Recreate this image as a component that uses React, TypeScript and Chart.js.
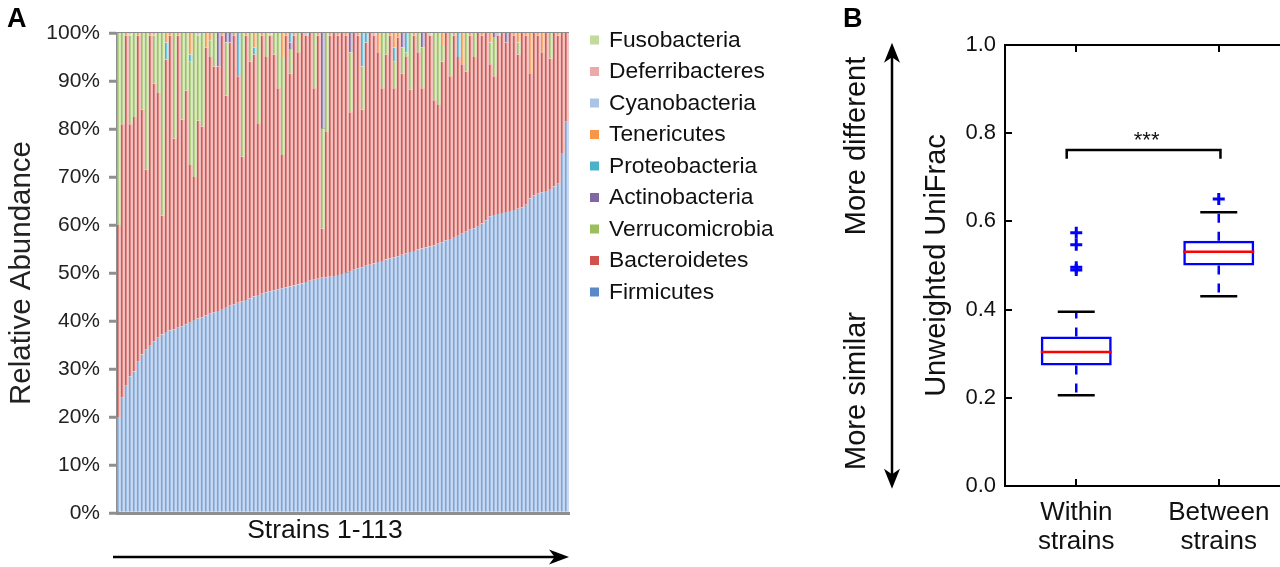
import React, { useEffect, useRef } from 'react';
import { Chart, registerables } from 'chart.js';

Chart.register(...registerables);

const FONT = "'Liberation Sans', Arial, Helvetica, sans-serif";
Chart.defaults.font.family = FONT;

// ---------------- Panel A : relative abundance of phyla, strains 1-113 ----------------
const strains: string[] = Array.from({ length: 113 }, (_, i) => String(i + 1));

const firmicutes = [
  20, 24, 26.5, 28.5, 29.5, 31.5, 33, 34, 35, 35.8,
  36.5, 37.2, 37.7, 38, 38.3, 38.6, 38.9, 39.3, 39.7, 40.2,
  40.5, 40.8, 41.2, 41.5, 41.8, 42.1, 42.5, 42.9, 43.2, 43.5,
  43.8, 44.1, 44.4, 44.7, 45.1, 45.4, 45.7, 46, 46.2, 46.4,
  46.6, 46.8, 47, 47.2, 47.4, 47.6, 47.8, 48.1, 48.4, 48.6,
  48.8, 49, 49.1, 49.2, 49.4, 49.6, 49.8, 50.1, 50.4, 50.7,
  51, 51.2, 51.5, 51.7, 52, 52.3, 52.5, 52.8, 53, 53.3,
  53.5, 53.8, 54.1, 54.4, 54.6, 54.9, 55.1, 55.3, 55.5, 55.8,
  56.1, 56.4, 56.8, 57.1, 57.5, 57.9, 58.2, 58.6, 59, 59.3,
  59.7, 60.3, 61, 61.8, 62.1, 62.3, 62.5, 62.7, 62.9, 63.1,
  63.4, 63.7, 64.2, 65.5, 66.2, 66.5, 66.8, 67.1, 67.5, 68,
  68.6, 75, 81.5,
];

const bacteroidetes = [
  40, 57, 73, 52.5, 53, 68, 51, 37.5, 64.5, 53.7,
  51, 24.8, 56.8, 61.5, 39.7, 60.9, 43.1, 48.7, 32.8, 29.8,
  41.2, 39.7, 55.8, 53.5, 51.2, 50.9, 57, 44.1, 54.8, 56,
  47.2, 30.1, 55.1, 49.3, 50.4, 35.8, 53.8, 49, 53.3, 49.1,
  41.9, 27.8, 52.5, 44.3, 52.1, 48.4, 52.2, 51.4, 51.6, 39.9,
  50.7, 10.2, 30.3, 50.3, 50.6, 49.9, 50.2, 49.4, 33.1, 49.3,
  48.5, 32.8, 46.5, 48.3, 47.5, 43.7, 36, 42.7, 46.5, 35.2,
  45.5, 37.7, 40.9, 33.8, 44.9, 41.1, 33.4, 44.7, 44, 30.2,
  28.9, 37.6, 43.2, 33.9, 42, 37.1, 35.3, 33.4, 40.5, 35.7,
  40.3, 39.2, 39, 31.7, 28.9, 37.2, 37.5, 35.3, 37.1, 36.4,
  32.1, 36.3, 35.3, 26.1, 33.8, 33, 29.2, 32.9, 27.2, 32,
  30.9, 25, 18.5,
];

const verrucomicrobia = [
  40, 19, 0, 18.5, 17.5, 0, 16, 28.5, 0, 10,
  12.5, 38, 0, 0, 22, 0, 18, 12, 21.5, 30,
  17.8, 19.5, 0, 3.5, 7, 0, 0, 11, 0, 0,
  0, 25.8, 0, 6, 0, 18.8, 0, 5, 0, 4.5,
  11.5, 20.4, 0, 5, 0, 4, 0, 0, 0, 11.5,
  0, 20.9, 20.6, 0, 0, 0, 0, 0, 12.5, 0,
  0, 9, 0, 0, 0, 0, 11.5, 4.5, 0, 5.5,
  0, 5.5, 1, 11.8, 0, 4, 8.5, 0, 0, 14,
  15, 3.5, 0, 9, 0, 0, 0, 8, 0, 5,
  0, 0, 0, 4.5, 8, 0, 0, 0, 0, 0,
  2.5, 0, 0, 0, 0, 0, 0, 0, 5.3, 0,
  0, 0, 0,
];

const actinobacteria = [
  0, 0, 0, 0, 0, 0, 0, 0, 0, 0,
  0, 0, 0, 0, 0, 0, 0, 0, 0, 0,
  0, 0, 0, 0, 0, 7, 0, 2, 2, 0,
  0, 0, 0, 0, 0, 0, 0, 0, 0, 0,
  0, 0, 0, 1.5, 0, 0, 0, 0, 0, 0,
  0, 19.9, 0, 0, 0, 0, 0, 0, 4, 0,
  0, 0, 0, 0, 0, 0, 0, 0, 0, 0,
  0, 3, 0, 0, 0, 0, 3, 0, 0, 0,
  0, 0, 0, 0, 0, 0, 0, 0, 0, 0,
  0, 0, 0, 0, 1, 0, 0, 2, 0, 0,
  0, 0, 0, 0, 0, 0, 0, 0, 0, 0,
  0, 0, 0,
];

const proteobacteria = [
  0, 0, 0, 0, 0, 0, 0, 0, 0, 0,
  0, 0, 3.5, 0, 0, 0, 0, 0, 1.5, 0,
  0, 0, 0, 0, 0, 0, 0, 0, 0, 0,
  9, 0, 0, 0, 1.5, 0, 0, 0, 0, 0,
  0, 0, 0, 2, 0, 0, 0, 0, 0, 0,
  0, 0, 0, 0, 0, 0, 0, 0, 0, 0,
  0, 7, 2, 0, 0, 0, 0, 0, 0, 3,
  0, 0, 4, 0, 0, 0, 0, 0, 0, 0,
  0, 0, 0, 0, 0, 5, 0, 0, 0, 0,
  0, 0, 0, 0, 0, 0, 0, 0, 0, 0,
  0, 0, 0, 0, 0, 0, 0, 0, 0, 0,
  0, 0, 0,
];

const tenericutes = [
  0, 0, 0.5, 0, 0, 0.5, 0, 0, 0.5, 0,
  0, 0, 2, 0.5, 0, 0.5, 0, 0, 4.5, 0,
  0, 0, 3, 1.5, 0, 0, 0.5, 0, 0, 0.5,
  0, 0, 0.5, 0, 3, 0, 0.5, 0, 0, 0,
  0, 5, 0.5, 0, 0.5, 0, 0, 0, 0, 0,
  0.5, 0, 0, 0.5, 0, 0.5, 0, 0.5, 0, 0,
  0.5, 0, 0, 0, 0, 4, 0, 0, 0.5, 3,
  1, 0, 0, 0, 0.5, 0, 0, 0, 0, 0,
  0, 2.5, 0, 0, 0.5, 0, 6.5, 0, 0.5, 0,
  0, 0.5, 0, 2, 0, 0, 0, 0, 0, 0.5,
  2, 0, 0.5, 8.4, 0, 0.5, 4, 0, 0, 0,
  0.5, 0, 0,
];

const cyanobacteria = [
  0, 0, 0, 0, 0, 0, 0, 0, 0, 0,
  0, 0, 0, 0, 0, 0, 0, 0, 0, 0,
  0.5, 0, 0, 0, 0, 0, 0, 0, 0, 0,
  0, 0, 0, 0, 0, 0, 0, 0, 0, 0,
  0, 0, 0, 0, 0, 0, 0, 0.5, 0, 0,
  0, 0, 0, 0, 0, 0, 0, 0, 0, 0,
  0, 0, 0, 0, 0, 0, 0, 0, 0, 0,
  0, 0, 0, 0, 0, 0, 0, 0, 0, 0,
  0, 0, 0, 0, 0, 0, 0, 0, 0, 0,
  0, 0, 0, 0, 0, 0.5, 0, 0, 0, 0,
  0, 0, 0, 0, 0, 0, 0, 0, 0, 0,
  0, 0, 0,
];

const deferribacteres = [
  0, 0, 0, 0, 0, 0, 0, 0, 0, 0.5,
  0, 0, 0, 0, 0, 0, 0, 0, 0, 0,
  0, 0, 0, 0, 0, 0, 0, 0, 0, 0,
  0, 0, 0, 0, 0, 0, 0, 0, 0, 0,
  0, 0, 0, 0, 0, 0, 0, 0, 0, 0,
  0, 0, 0, 0, 0, 0, 0, 0, 0, 0,
  0, 0, 0, 0, 0.5, 0, 0, 0, 0, 0,
  0, 0, 0, 0, 0, 0, 0, 0, 0, 0,
  0, 0, 0, 0, 0, 0, 0, 0, 0, 0,
  0, 0, 0, 0, 0, 0, 0, 0, 0, 0,
  0, 0, 0, 0, 0, 0, 0, 0, 0, 0,
  0, 0, 0,
];

const fusobacteria = [
  0, 0, 0, 0.5, 0, 0, 0, 0, 0, 0,
  0, 0, 0, 0, 0, 0, 0, 0, 0, 0,
  0, 0, 0, 0, 0, 0, 0, 0, 0, 0,
  0, 0, 0, 0, 0, 0, 0, 0, 0.5, 0,
  0, 0, 0, 0, 0, 0, 0, 0, 0, 0,
  0, 0, 0, 0, 0, 0, 0, 0, 0, 0,
  0, 0, 0, 0, 0, 0, 0, 0, 0, 0,
  0, 0, 0, 0, 0, 0, 0, 0, 0.5, 0,
  0, 0, 0, 0, 0, 0, 0, 0, 0, 0,
  0, 0, 0, 0, 0, 0, 0, 0, 0, 0,
  0, 0, 0, 0, 0, 0, 0, 0, 0, 0,
  0, 0, 0,
];

// stacking order bottom -> top
const phylumNames = [
  'Firmicutes', 'Bacteroidetes', 'Verrucomicrobia', 'Actinobacteria', 'Proteobacteria',
  'Tenericutes', 'Cyanobacteria', 'Deferribacteres', 'Fusobacteria',
];
const phylumValues = [
  firmicutes, bacteroidetes, verrucomicrobia, actinobacteria, proteobacteria,
  tenericutes, cyanobacteria, deferribacteres, fusobacteria,
];
const phylumFill = ['#cbdaf0', '#f3c6c5', '#dbe9c6', '#d3c8e3', '#c2e4ee', '#fbd6b6', '#dde8f5', '#f6dede', '#e6f0d8'];
const phylumStripe = ['#7fa4d6', '#cf5955', '#9cc15f', '#8468a8', '#4bb0cc', '#f7974a', '#a9c3e5', '#e4aaa9', '#c4dba0'];
const phylumKey = ['#5b89c8', '#d0524f', '#9bbf5c', '#8266a6', '#4cb2cc', '#f79646', '#a9c4e6', '#eaaaa9', '#c3da9d'];
const abundanceTicks = [0, 10, 20, 30, 40, 50, 60, 70, 80, 90, 100];

// ---------------- Panel B : Unweighted UniFrac box plots ----------------
const groupLabels = [['Within', 'strains'], ['Between', 'strains']];
const groupX = [1, 2];
const q1 = [0.273, 0.5];
const median = [0.304, 0.531];
const q3 = [0.339, 0.556];
const whiskerLow = [0.206, 0.43];
const whiskerHigh = [0.395, 0.621];
const withinOutliers = [0.574, 0.547, 0.496, 0.49];
const betweenOutliers = [0.651];
const bracketX = [0.933, 2.012];
const bracketY = [0.742, 0.762];
const starsPos = { x: 1.494, y: 0.796 };
const unifracTicks = [0, 0.2, 0.4, 0.6, 0.8, 1.0];

function arrowHead(ctx: CanvasRenderingContext2D, tx: number, ty: number, dx: number, dy: number, len: number, half: number) {
  const bx = tx - dx * len;
  const by = ty - dy * len;
  const px = -dy;
  const py = dx;
  ctx.beginPath();
  ctx.moveTo(tx, ty);
  ctx.lineTo(bx + px * half, by + py * half);
  ctx.lineTo(tx - dx * len * 0.72, ty - dy * len * 0.72);
  ctx.lineTo(bx - px * half, by - py * half);
  ctx.closePath();
  ctx.fill();
}

const panelAPlugin = {
  id: 'panelA',
  afterDraw(chart: any) {
    const { ctx, chartArea } = chart;
    ctx.save();
    ctx.fillStyle = '#000';
    ctx.font = `bold 27px ${FONT}`;
    ctx.textAlign = 'left';
    ctx.textBaseline = 'alphabetic';
    ctx.fillText('A', 7, 27);

    ctx.fillStyle = '#111';
    ctx.font = `26.5px ${FONT}`;
    ctx.textAlign = 'center';
    ctx.fillText('Strains 1-113', 325, 538);

    // arrow under the axis
    const ay = 557;
    ctx.strokeStyle = '#000';
    ctx.lineWidth = 2.5;
    ctx.beginPath();
    ctx.moveTo(chartArea.left - 4, ay);
    ctx.lineTo(chartArea.right - 10, ay);
    ctx.stroke();
    ctx.fillStyle = '#000';
    arrowHead(ctx, chartArea.right, ay, 1, 0, 20, 7.5);

    // legend (reverse order)
    const ds = chart.data.datasets;
    ctx.textAlign = 'left';
    ctx.textBaseline = 'middle';
    ctx.font = `22.8px ${FONT}`;
    for (let k = 0; k < ds.length; k++) {
      const d = ds[ds.length - 1 - k];
      const y = 39.5 + k * 31.5;
      ctx.fillStyle = d.keyColor;
      ctx.fillRect(590, y - 4, 9, 9);
      ctx.fillStyle = '#111';
      ctx.fillText(d.label, 609, y + 1);
    }
    ctx.restore();
  },
};

const panelBPlugin = {
  id: 'panelB',
  afterDraw(chart: any) {
    const { ctx, chartArea: a } = chart;
    const xs = chart.scales.x;
    const ys = chart.scales.y;
    ctx.save();
    ctx.strokeStyle = '#000';
    ctx.lineWidth = 2;
    ctx.beginPath();
    ctx.moveTo(a.left, a.top);
    ctx.lineTo(a.right, a.top);
    ctx.lineTo(a.right, a.bottom);
    ctx.stroke();
    // inward ticks
    ctx.beginPath();
    for (const t of ys.ticks) {
      const py = Math.round(ys.getPixelForValue(t.value));
      ctx.moveTo(a.left, py);
      ctx.lineTo(a.left + 7, py);
      ctx.moveTo(a.right - 7, py);
      ctx.lineTo(a.right, py);
    }
    for (const t of xs.ticks) {
      const px = Math.round(xs.getPixelForValue(t.value));
      ctx.moveTo(px, a.bottom);
      ctx.lineTo(px, a.bottom - 7);
      ctx.moveTo(px, a.top);
      ctx.lineTo(px, a.top + 7);
    }
    ctx.stroke();

    // significance stars
    ctx.fillStyle = '#111';
    ctx.font = `22px ${FONT}`;
    ctx.textAlign = 'center';
    ctx.textBaseline = 'alphabetic';
    ctx.fillText('***', xs.getPixelForValue(starsPos.x), ys.getPixelForValue(starsPos.y) + 12);

    // double arrow
    const axX = 52;
    const yTop = ys.getPixelForValue(1.005);
    const yBot = ys.getPixelForValue(-0.006);
    ctx.lineWidth = 2.5;
    ctx.beginPath();
    ctx.moveTo(axX, yTop + 10);
    ctx.lineTo(axX, yBot - 10);
    ctx.stroke();
    ctx.fillStyle = '#000';
    arrowHead(ctx, axX, yTop, 0, -1, 20, 8);
    arrowHead(ctx, axX, yBot, 0, 1, 20, 8);

    // rotated texts
    ctx.fillStyle = '#111';
    ctx.font = `29px ${FONT}`;
    ctx.textAlign = 'center';
    ctx.textBaseline = 'middle';
    const rot = (txt: string, cx: number, cy: number) => {
      ctx.save();
      ctx.translate(cx, cy);
      ctx.rotate(-Math.PI / 2);
      ctx.fillText(txt, 0, 0);
      ctx.restore();
    };
    rot('More different', 17, 146);
    rot('More similar', 17, 391);

    ctx.fillStyle = '#000';
    ctx.font = `bold 27px ${FONT}`;
    ctx.textAlign = 'left';
    ctx.textBaseline = 'alphabetic';
    ctx.fillText('B', 3, 27);
    ctx.restore();
  },
};

export default function App() {
  const refA = useRef<HTMLCanvasElement | null>(null);
  const refB = useRef<HTMLCanvasElement | null>(null);

  useEffect(() => {
    document.body.style.margin = '0';
    const datasetsA = phylumNames.map((name, i) => ({
      label: name,
      data: phylumValues[i],
      backgroundColor: phylumFill[i],
      borderColor: phylumStripe[i],
      borderWidth: { left: 1.9, right: 0, top: 0, bottom: 0 },
      borderSkipped: false,
      inflateAmount: (c: any) => (c.raw > 0 ? 0.3 : 0),
      keyColor: phylumKey[i],
      barPercentage: 1,
      categoryPercentage: 1,
    }));

    const chartA = new Chart(refA.current as HTMLCanvasElement, {
      type: 'bar',
      data: { labels: strains, datasets: datasetsA as any },
      options: {
        responsive: false,
        animation: false,
        devicePixelRatio: 1,
        events: [],
        layout: { autoPadding: false, padding: { top: 33, right: 231, left: 0, bottom: 0 } },
        plugins: { legend: { display: false }, tooltip: { enabled: false } },
        scales: {
          x: {
            stacked: true,
            grid: { display: false, drawTicks: false },
            ticks: { display: false },
            border: { display: true, color: '#8f8f8f', width: 3 },
            afterFit: (s: any) => { s.height = 54; },
          },
          y: {
            stacked: true,
            min: 0,
            max: 100,
            afterBuildTicks: (s: any) => { s.ticks = abundanceTicks.map((v) => ({ value: v })); },
            ticks: {
              callback: (v: any) => `${v}%`,
              font: { family: FONT, size: 21 },
              color: '#222',
              padding: 9,
            },
            grid: {
              color: 'rgba(125,125,125,0.9)',
              lineWidth: 2.5,
              borderDash: [2.5, 2],
              tickLength: 8,
              tickColor: '#8f8f8f',
              tickWidth: 3,
              tickBorderDash: [],
            },
            border: { display: true, color: '#8f8f8f', width: 3 },
            title: {
              display: true,
              text: 'Relative Abundance',
              font: { family: FONT, size: 29.5 },
              color: '#222',
              padding: { top: 4, bottom: 0 },
            },
            afterFit: (s: any) => { s.width = 117; },
            z: 1,
          } as any,
        },
      },
      plugins: [panelAPlugin],
    });

    const whiskerPts: any[] = [];
    groupX.forEach((gx, i) => {
      whiskerPts.push(
        { x: gx, y: q3[i] }, { x: gx, y: whiskerHigh[i] }, { x: gx, y: null },
        { x: gx, y: q1[i] }, { x: gx, y: whiskerLow[i] }, { x: gx, y: null },
      );
    });
    const capPts: any[] = [];
    groupX.forEach((gx, i) => {
      capPts.push({ x: gx, y: whiskerLow[i] }, { x: gx, y: whiskerHigh[i] });
    });
    const outlierPts = [
      ...withinOutliers.map((v) => ({ x: groupX[0], y: v })),
      ...betweenOutliers.map((v) => ({ x: groupX[1], y: v })),
    ];
    const bracketPts = [
      { x: bracketX[0], y: bracketY[0] },
      { x: bracketX[0], y: bracketY[1] },
      { x: bracketX[1], y: bracketY[1] },
      { x: bracketX[1], y: bracketY[0] },
    ];

    const chartB = new Chart(refB.current as HTMLCanvasElement, {
      type: 'scatter',
      data: {
        datasets: [
          {
            label: 'median',
            data: groupX.map((gx, i) => ({ x: gx, y: median[i] })),
            pointStyle: 'line',
            radius: 35.5,
            borderColor: '#ff0000',
            borderWidth: 2.5,
          },
          {
            label: 'outliers',
            data: outlierPts,
            pointStyle: 'cross',
            radius: 6,
            borderColor: '#0000ff',
            borderWidth: 3,
          },
          {
            label: 'caps',
            data: capPts,
            pointStyle: 'line',
            radius: 18.5,
            borderColor: '#000000',
            borderWidth: 2.5,
          },
          {
            type: 'bar',
            label: 'box',
            data: groupX.map((gx, i) => ({ x: gx, y: [q1[i], q3[i]] })),
            backgroundColor: 'rgba(0,0,0,0)',
            borderColor: '#0000ff',
            borderWidth: 2.5,
            borderSkipped: false,
            barThickness: 71,
            inflateAmount: 0,
          },
          {
            label: 'whiskers',
            data: whiskerPts,
            showLine: true,
            spanGaps: false,
            pointRadius: 0,
            borderColor: '#0000ff',
            borderWidth: 2.5,
            borderDash: [9, 9],
          },
          {
            label: 'bracket',
            data: bracketPts,
            showLine: true,
            pointRadius: 0,
            borderColor: '#000000',
            borderWidth: 2.5,
          },
        ] as any,
      },
      options: {
        responsive: false,
        animation: false,
        devicePixelRatio: 1,
        events: [],
        layout: { autoPadding: false, padding: { top: 45, right: 0, left: 0, bottom: 0 } },
        plugins: { legend: { display: false }, tooltip: { enabled: false } },
        scales: {
          x: {
            type: 'linear',
            offset: false,
            min: 0.5,
            max: 2.5,
            afterBuildTicks: (s: any) => { s.ticks = groupX.map((v) => ({ value: v })); },
            ticks: {
              callback: (_v: any, idx: number) => groupLabels[idx],
              font: { family: FONT, size: 26, lineHeight: 1.12 },
              color: '#111',
              padding: 12,
              autoSkip: false,
              maxRotation: 0,
            },
            grid: { display: false, drawTicks: false, offset: false },
            border: { display: true, color: '#000', width: 2 },
            afterFit: (s: any) => { s.height = 81; s.paddingLeft = 0; s.paddingRight = 0; },
          } as any,
          y: {
            min: 0,
            max: 1,
            afterBuildTicks: (s: any) => { s.ticks = unifracTicks.map((v) => ({ value: v })); },
            ticks: {
              callback: (v: any) => Number(v).toFixed(1),
              font: { family: FONT, size: 22 },
              color: '#111',
              padding: 9,
            },
            grid: { display: false, drawTicks: false },
            border: { display: true, color: '#000', width: 2 },
            title: {
              display: true,
              text: 'Unweighted UniFrac',
              font: { family: FONT, size: 29 },
              color: '#111',
              padding: { top: 80, bottom: 0 },
            },
            afterFit: (s: any) => { s.width = 165; s.paddingTop = 0; s.paddingBottom = 0; },
          } as any,
        },
      },
      plugins: [panelBPlugin],
    });

    return () => {
      chartA.destroy();
      chartB.destroy();
    };
  }, []);

  return (
    <div
      style={{
        position: 'absolute',
        left: 0,
        top: 0,
        width: 1280,
        height: 567,
        overflow: 'hidden',
        background: '#fff',
      }}
    >
      <canvas ref={refA} width={800} height={567} style={{ position: 'absolute', left: 0, top: 0 }} />
      <canvas ref={refB} width={450} height={567} style={{ position: 'absolute', left: 840, top: 0 }} />
    </div>
  );
}
